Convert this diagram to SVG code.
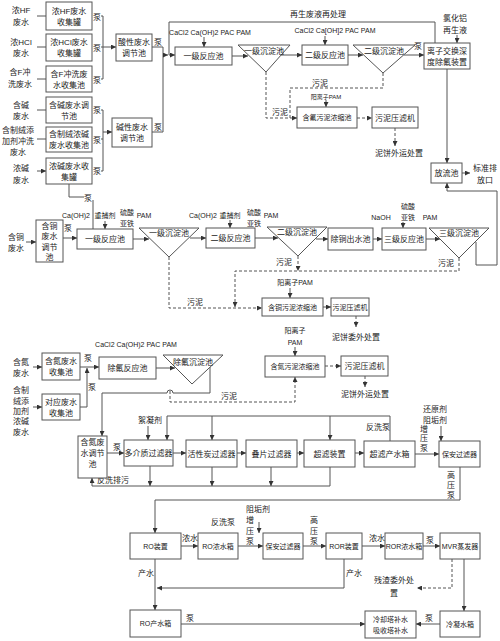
<svg xmlns="http://www.w3.org/2000/svg" width="500" height="641" viewBox="0 0 500 641">
<style>
.b{fill:#fff;stroke:#555;stroke-width:1}
.t{font-family:"Liberation Sans","Noto Sans CJK SC",sans-serif;font-size:8px;fill:#222;text-anchor:middle}
.s{font-size:7px}
.xs{font-size:6px}
.l{fill:none;stroke:#555;stroke-width:1}
.d{stroke-dasharray:3 2}
</style>
<defs>
<marker id="a" viewBox="0 0 6 6" refX="6" refY="3" markerWidth="5" markerHeight="5" orient="auto"><path d="M0,0L6,3L0,6z" fill="#333"/></marker>
</defs>
<rect width="500" height="641" fill="#fff"/>

<g id="connectors">
<!-- section 1 -->
<path class="l" marker-end="url(#a)" d="M37,16H46M37,47H46M37,79H46M37,110H46M37,139H46M37,171H46"/>
<path class="l" d="M101,16H103V79H101M101,47H103"/>
<path class="l" marker-end="url(#a)" d="M103,47H116"/>
<path class="l" d="M101,110H103V171H101M101,139H103"/>
<path class="l" marker-end="url(#a)" d="M103,132H112"/>
<path class="l" d="M152,47H163V132H152"/>
<path class="l" marker-end="url(#a)" d="M163,55H168"/>
<path class="l" marker-end="url(#a)" d="M435,43V22H169V55H175"/>
<path class="l" marker-end="url(#a)" d="M204,37V47"/>
<path class="l" marker-end="url(#a)" d="M232,56H248"/>
<path class="l" marker-end="url(#a)" d="M281,55H302"/>
<path class="l" marker-end="url(#a)" d="M325,36V45"/>
<path class="l" marker-end="url(#a)" d="M348,55H363"/>
<path class="l" marker-end="url(#a)" d="M404,55H424"/>
<path class="l" marker-end="url(#a)" d="M457,35V43"/>
<path class="l" marker-end="url(#a)" d="M447,69V163"/>
<path class="l" marker-end="url(#a)" d="M462,173H470"/>
<path class="l" marker-end="url(#a)" d="M476,242V265H497V191H447V183"/>
<path class="l d" marker-end="url(#a)" d="M266,72V118H297"/>
<path class="l d" d="M383,73V88H290V118"/>
<path class="l" marker-end="url(#a)" d="M326,100V107"/>
<path class="l d" marker-end="url(#a)" d="M357,118H372"/>
<path class="l d" marker-end="url(#a)" d="M395,128V146"/>
<path class="l" d="M69,184V197H84M93,200V229"/>
<!-- section 2 -->
<path class="l" marker-end="url(#a)" d="M26,242H36"/>
<path class="l" marker-end="url(#a)" d="M63,238H77"/>
<path class="l" marker-end="url(#a)" d="M105,221V229"/>
<path class="l" marker-end="url(#a)" d="M133,239H149"/>
<path class="l" marker-end="url(#a)" d="M190,238H206"/>
<path class="l" marker-end="url(#a)" d="M230,220V228"/>
<path class="l" marker-end="url(#a)" d="M255,238H278"/>
<path class="l" marker-end="url(#a)" d="M316,239H328"/>
<path class="l" marker-end="url(#a)" d="M373,239H382"/>
<path class="l" marker-end="url(#a)" d="M403,222V228"/>
<path class="l" marker-end="url(#a)" d="M426,239H440"/>
<path class="l d" marker-end="url(#a)" d="M298,256V271"/>
<path class="l d" marker-end="url(#a)" d="M459,258V271H235V307"/>
<path class="l d" marker-end="url(#a)" d="M169,257V308H262"/>
<path class="l" marker-end="url(#a)" d="M290,288V298"/>
<path class="l" marker-end="url(#a)" d="M323,307H331"/>
<path class="l d" marker-end="url(#a)" d="M356,316V327"/>
<!-- section 3 -->
<path class="l" marker-end="url(#a)" d="M295,347V356"/>
<path class="l d" marker-end="url(#a)" d="M325,366H341"/>
<path class="l d" marker-end="url(#a)" d="M365,376V387"/>
<path class="l" marker-end="url(#a)" d="M33,367H42"/>
<path class="l" marker-end="url(#a)" d="M33,407H42"/>
<path class="l" marker-end="url(#a)" d="M80,367H99"/>
<path class="l" marker-end="url(#a)" d="M80,407H87V368"/>
<path class="l" marker-end="url(#a)" d="M156,368H175"/>
<path class="l" marker-end="url(#a)" d="M210,367V393H173A3,3 0 0 0 167,393H102V436"/>
<path class="l d" marker-end="url(#a)" d="M170,391V402H295V377"/>
<!-- section 4 -->
<path class="l" marker-end="url(#a)" d="M107,453H124"/>
<path class="l" marker-end="url(#a)" d="M148,426V440"/>
<path class="l" marker-end="url(#a)" d="M173,453H186"/>
<path class="l" marker-end="url(#a)" d="M237,453H246"/>
<path class="l" marker-end="url(#a)" d="M297,453H304"/>
<path class="l" marker-end="url(#a)" d="M355,453H364"/>
<path class="l" marker-end="url(#a)" d="M415,454H439"/>
<path class="l" marker-end="url(#a)" d="M390,441V416H167V440"/>
<path class="l" marker-end="url(#a)" d="M212,416V440"/>
<path class="l" marker-end="url(#a)" d="M330,416V440"/>
<path class="l" marker-end="url(#a)" d="M330,467V486H92V478"/>
<path class="l" marker-end="url(#a)" d="M150,466V486"/>
<path class="l" marker-end="url(#a)" d="M212,467V486"/>
<path class="l" marker-end="url(#a)" d="M271,467V486"/>
<path class="l" marker-end="url(#a)" d="M441,426V441"/>
<path class="l" marker-end="url(#a)" d="M460,467V500H155V533"/>
<!-- section 5 -->
<path class="l" marker-end="url(#a)" d="M181,546H198"/>
<path class="l" marker-end="url(#a)" d="M238,546H263"/>
<path class="l" marker-end="url(#a)" d="M259,522V533"/>
<path class="l" marker-end="url(#a)" d="M303,546H326"/>
<path class="l" marker-end="url(#a)" d="M362,546H385"/>
<path class="l" marker-end="url(#a)" d="M423,546H440"/>
<path class="l d" marker-end="url(#a)" d="M452,559V588H417"/>
<path class="l" marker-end="url(#a)" d="M464,559V611"/>
<path class="l" marker-end="url(#a)" d="M440,624H416"/>
<path class="l" marker-end="url(#a)" d="M181,624H365"/>
<path class="l" marker-end="url(#a)" d="M155,559V610"/>
<path class="l" marker-end="url(#a)" d="M344,559V588H157"/>
</g>

<g id="labels" class="t">
<text x="21" y="13">浓HF</text><text x="21" y="25">废水</text>
<text x="21" y="45">浓HCl</text><text x="21" y="56">废水</text>
<text x="20" y="75">含F冲</text><text x="20" y="87">洗废水</text>
<text x="21" y="108">含碱</text><text x="21" y="119">废水</text>
<text x="18" y="133">含制绒添</text><text x="18" y="144">加剂冲洗</text><text x="18" y="155">废水</text>
<text x="21" y="171">浓碱</text><text x="21" y="183">废水</text>
<text x="97" y="20">泵</text><text x="97" y="51">泵</text><text x="97" y="83">泵</text>
<text x="97" y="113">泵</text><text x="97" y="143">泵</text><text x="97" y="174">泵</text>
<text x="158" y="45">泵</text><text x="158" y="130">泵</text>
<text x="88" y="201">泵</text>
<text x="210" y="35" class="s">CaCl2 Ca(OH)2 PAC PAM</text>
<text x="335" y="33" class="s">CaCl2 Ca[OH]2 PAC PAM</text>
<text x="318" y="17">再生废液再处理</text>
<text x="455" y="21">氯化铝</text><text x="455" y="33">再生液</text>
<text x="418" y="49">泵</text>
<text x="485" y="171">标准排</text><text x="485" y="183">放口</text>
<text x="280" y="115">污泥</text>
<text x="320" y="86">污泥</text>
<text x="326" y="99" class="xs">阳离子PAM</text>
<text x="399" y="156">泥饼外运处置</text>

<text x="16" y="240">含铜</text><text x="16" y="251">废水</text>
<text x="68" y="231">泵</text>
<text x="76" y="218" class="s">Ca(OH)2</text><text x="105" y="218" class="s">重捕剂</text>
<text x="127" y="215" class="s">硫酸</text><text x="127" y="226" class="s">亚铁</text><text x="144" y="218" class="s">PAM</text>
<text x="203" y="218" class="s">Ca(OH)2</text><text x="230" y="218" class="s">重捕剂</text>
<text x="254" y="215" class="s">硫酸</text><text x="254" y="226" class="s">亚铁</text><text x="271" y="218" class="s">PAM</text>
<text x="381" y="220" class="s">NaOH</text>
<text x="408" y="209" class="s">硫酸</text><text x="408" y="220" class="s">亚铁</text><text x="430" y="220" class="s">PAM</text>
<text x="284" y="265">污泥</text>
<text x="446" y="266">污泥</text>
<text x="195" y="305">污泥</text>
<text x="295" y="285" class="s">阳离子PAM</text>
<text x="356" y="340">泥饼委外处置</text>

<text x="295" y="333" class="s">阳离子</text><text x="295" y="345" class="s">PAM</text>
<text x="365" y="397">泥饼外运处置</text>
<text x="136" y="347" class="s">CaCl2 Ca(OH)2  PAC  PAM</text>
<text x="21" y="365">含氮</text><text x="21" y="376">废水</text>
<text x="21" y="393">含制</text><text x="21" y="404">绒添</text><text x="21" y="414">加剂</text><text x="21" y="424">浓碱</text><text x="21" y="435">废水</text>
<text x="88" y="361">泵</text>
<text x="92" y="390">泵</text>
<text x="229" y="399">污泥</text>

<text x="117" y="450">泵</text>
<text x="150" y="423">絮凝剂</text>
<text x="378" y="430">反洗泵</text>
<text x="113" y="483">反洗排污</text>
<text x="435" y="412">还原剂</text><text x="435" y="423">阻垢剂</text>
<text x="424" y="432">增</text><text x="424" y="441">压</text><text x="424" y="451">泵</text>
<text x="451" y="478">高</text><text x="451" y="488">压</text><text x="451" y="498">泵</text>

<text x="190" y="541">浓水</text>
<text x="223" y="525">反洗泵</text>
<text x="258" y="512">阻垢剂</text>
<text x="250" y="523">增</text><text x="250" y="534">压</text><text x="250" y="544">泵</text>
<text x="314" y="523">高</text><text x="314" y="534">压</text><text x="314" y="544">泵</text>
<text x="377" y="541">浓水</text>
<text x="430" y="543">泵</text>
<text x="394" y="583">残渣委外处</text><text x="394" y="596">置</text>
<text x="429" y="621">泵</text>
<text x="190" y="621">泵</text>
<text x="146" y="576">产水</text>
<text x="354" y="576">产水</text>
</g>

<g id="n1"><rect class="b" x="46" y="2" width="46" height="28"/><text class="t" x="69" y="13.5">浓HF废水</text><text class="t" x="69" y="24.5">收集罐</text></g>
<g id="n2"><rect class="b" x="46" y="34" width="46" height="27"/><text class="t" x="69" y="45">浓HCl废水</text><text class="t" x="69" y="56">收集罐</text></g>
<g id="n3"><rect class="b" x="46" y="66" width="46" height="26"/><text class="t" x="69" y="76.5">含F冲洗废</text><text class="t" x="69" y="87.5">水收集池</text></g>
<g id="n4"><rect class="b" x="116" y="34" width="36" height="27"/><text class="t" x="134" y="45">酸性废水</text><text class="t" x="134" y="56">调节池</text></g>
<g id="n5"><rect class="b" x="46" y="97" width="46" height="26"/><text class="t" x="69" y="107.5">含碱废水调</text><text class="t" x="69" y="118.5">节池</text></g>
<g id="n6"><rect class="b" x="46" y="127" width="46" height="25"/><text class="t" x="69" y="137">含制绒浓碱</text><text class="t" x="69" y="148">废水收集池</text></g>
<g id="n7"><rect class="b" x="46" y="158" width="46" height="26"/><text class="t" x="69" y="168.5">浓碱废水收</text><text class="t" x="69" y="179.5">集罐</text></g>
<g id="n8"><rect class="b" x="112" y="118" width="40" height="29"/><text class="t" x="132" y="130">碱性废水</text><text class="t" x="132" y="141">调节池</text></g>
<g id="n9"><rect class="b" x="175" y="47" width="57" height="18"/><text class="t" x="203.5" y="59">一级反应池</text></g>
<g id="n10"><path class="b" d="M238,45H290L266,72Z"/><text class="t" x="264" y="54">一级沉淀池</text></g>
<g id="n11"><rect class="b" x="302" y="45" width="46" height="20"/><text class="t" x="325" y="58">二级反应池</text></g>
<g id="n12"><path class="b" d="M353,45H415L383,73Z"/><text class="t" x="384" y="54">二级沉淀池</text></g>
<g id="n13"><rect class="b" x="424" y="43" width="46" height="26"/><text class="t" x="447" y="53.5">离子交换深</text><text class="t" x="447" y="64.5">度除氟装置</text></g>
<g id="n14"><rect class="b" x="297" y="107" width="60" height="21"/><text class="t s" x="327" y="120">含氟污泥浓缩池</text></g>
<g id="n15"><rect class="b" x="372" y="107" width="46" height="21"/><text class="t" x="395" y="120.5">污泥压滤机</text></g>
<g id="n16"><rect class="b" x="431" y="163" width="31" height="20"/><text class="t" x="446.5" y="176">放流池</text></g>

<g id="n17"><rect class="b" x="36" y="220" width="27" height="42"/><text class="t" x="49.5" y="228.5">含铜</text><text class="t" x="49.5" y="239">废水</text><text class="t" x="49.5" y="249.5">调节</text><text class="t" x="49.5" y="260">池</text></g>
<g id="n18"><rect class="b" x="77" y="229" width="56" height="20"/><text class="t" x="105" y="242">一级反应池</text></g>
<g id="n19"><path class="b" d="M139,228H199L169,257Z"/><text class="t" x="169" y="236">一级沉淀池</text></g>
<g id="n20"><rect class="b" x="206" y="228" width="49" height="20"/><text class="t" x="230.5" y="241">二级反应池</text></g>
<g id="n21"><path class="b" d="M267,227H327L298,256Z"/><text class="t" x="297" y="235">二级沉淀池</text></g>
<g id="n22"><rect class="b" x="328" y="228" width="45" height="22"/><text class="t" x="350.5" y="242">除铜出水池</text></g>
<g id="n23"><rect class="b" x="382" y="228" width="44" height="22"/><text class="t" x="404" y="242">三级反应池</text></g>
<g id="n24"><path class="b" d="M429,228H489L459,258Z"/><text class="t" x="459" y="236">三级沉淀池</text></g>
<g id="n25"><rect class="b" x="262" y="298" width="61" height="18"/><text class="t s" x="292.5" y="310">含铜污泥浓缩池</text></g>
<g id="n26"><rect class="b" x="331" y="298" width="38" height="18"/><text class="t s" x="350" y="310">污泥压滤机</text></g>

<g id="n27"><rect class="b" x="42" y="353" width="38" height="27"/><text class="t" x="61" y="364">含氮废水</text><text class="t" x="61" y="375">收集池</text></g>
<g id="n28"><rect class="b" x="42" y="394" width="38" height="26"/><text class="t" x="61" y="404.5">对应废水</text><text class="t" x="61" y="415.5">收集池</text></g>
<g id="n29"><rect class="b" x="99" y="357" width="57" height="22"/><text class="t" x="127.5" y="371">除氟反应池</text></g>
<g id="n30"><path class="b" d="M163,355H223L192,384Z"/><text class="t" x="193" y="365">除氟沉淀池</text></g>
<g id="n31"><rect class="b" x="265" y="356" width="60" height="21"/><text class="t s" x="295" y="369">含氮污泥浓缩池</text></g>
<g id="n32"><rect class="b" x="341" y="356" width="47" height="20"/><text class="t" x="364.5" y="369">污泥压滤机</text></g>

<g id="n33"><rect class="b" x="78" y="436" width="29" height="42"/><text class="t" x="92.5" y="445">含氮废</text><text class="t" x="92.5" y="456">水调节</text><text class="t" x="92.5" y="467">池</text></g>
<g id="n34"><rect class="b" x="124" y="440" width="49" height="26"/><text class="t" x="148.5" y="456">多介质过滤器</text></g>
<g id="n35"><rect class="b" x="186" y="440" width="51" height="27"/><text class="t" x="211.5" y="456.5">活性炭过滤器</text></g>
<g id="n36"><rect class="b" x="246" y="440" width="51" height="27"/><text class="t" x="271.5" y="456.5">叠片过滤器</text></g>
<g id="n37"><rect class="b" x="304" y="440" width="51" height="27"/><text class="t" x="329.5" y="456.5">超滤装置</text></g>
<g id="n38"><rect class="b" x="364" y="441" width="51" height="26"/><text class="t" x="389.5" y="457">超滤产水箱</text></g>
<g id="n39"><rect class="b" x="439" y="441" width="41" height="26"/><text class="t s" x="459.5" y="457">保安过滤器</text></g>

<g id="n40"><rect class="b" x="130" y="533" width="51" height="26"/><text class="t s" x="155.5" y="549">RO装置</text></g>
<g id="n41"><rect class="b" x="198" y="533" width="40" height="26"/><text class="t s" x="218" y="549">RO浓水箱</text></g>
<g id="n42"><rect class="b" x="263" y="533" width="40" height="26"/><text class="t s" x="283" y="549">保安过滤器</text></g>
<g id="n43"><rect class="b" x="326" y="533" width="36" height="26"/><text class="t s" x="344" y="549">ROR装置</text></g>
<g id="n44"><rect class="b" x="385" y="533" width="38" height="26"/><text class="t s" x="404" y="549">ROR浓水箱</text></g>
<g id="n45"><rect class="b" x="440" y="533" width="40" height="26"/><text class="t s" x="460" y="549">MVR蒸发器</text></g>
<g id="n46"><rect class="b" x="440" y="611" width="40" height="26"/><text class="t s" x="460" y="627">冷凝水箱</text></g>
<g id="n47"><rect class="b" x="365" y="611" width="51" height="27"/><text class="t s" x="390.5" y="622">冷却塔补水</text><text class="t s" x="390.5" y="633">吸收塔补水</text></g>
<g id="n48"><rect class="b" x="130" y="610" width="51" height="27"/><text class="t s" x="155.5" y="626">RO产水箱</text></g>
</svg>
